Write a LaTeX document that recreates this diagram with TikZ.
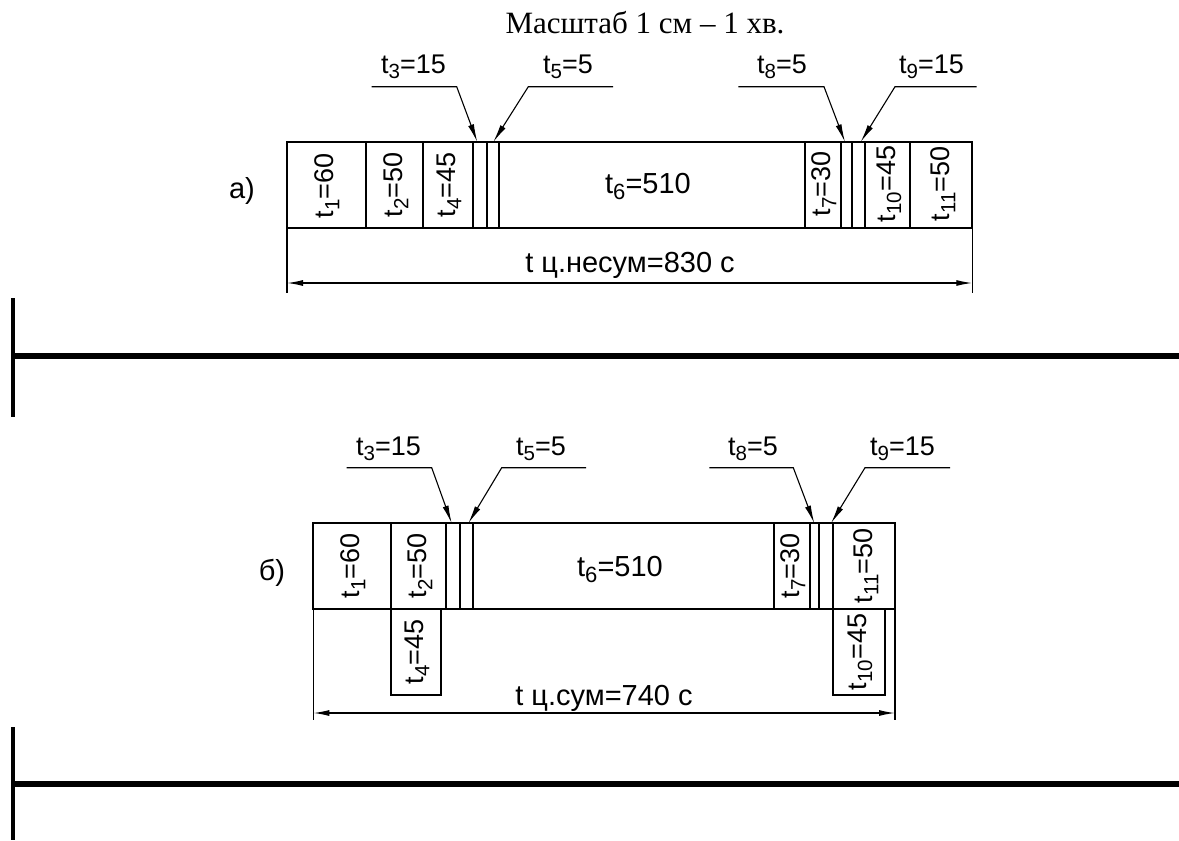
\documentclass[tikz,border=0pt]{standalone}
\usepackage{fontspec}
\setmainfont{Liberation Sans}
\newfontfamily\titlefont{Liberation Serif}
\usetikzlibrary{arrows.meta}
\newcommand\tsb[1]{\raisebox{-0.22em}{\scalebox{0.76}{#1}}}
\begin{document}
\begin{tikzpicture}[x=1pt,y=-1pt,
  lbl/.style={font=\fontsize{27}{30}\selectfont, inner sep=0pt, anchor=base west},
  rlbl/.style={font=\fontsize{27}{30}\selectfont, rotate=90, inner sep=0pt},
  big/.style={font=\fontsize{29}{33}\selectfont, inner sep=0pt},
  frame/.style={line width=2.2pt},
  leader/.style={line width=1.1pt, -{Latex[length=18pt,width=6pt]}},
  dimline/.style={line width=1.3pt, {Latex[length=16pt,width=6pt]}-{Latex[length=16pt,width=6pt]}},
  sepline/.style={line width=6pt},
  sepv/.style={line width=4pt}]
\useasboundingbox (0,0) rectangle (1179,841);

% title
\node[font=\titlefont\fontsize{31}{35}\selectfont, inner sep=0pt, anchor=base] (title) at (645,33) {Масштаб 1 см – 1 хв.};

% ================= a) =================
\node[big, anchor=base] (la) at (242,198) {а)};
\draw[frame] (287,142) rectangle (972.3,228);
\foreach \x in {365.7,422.7,472.7,486.7,499.3,805,841,851.7,865,910}
  \draw[frame] (\x,142) -- (\x,228);
\coordinate (aL1) at (287,228); \coordinate (aL2) at (287,293);
\coordinate (aR1) at (972.3,228); \coordinate (aR2) at (972.3,293);
\draw[line width=1.3pt] (aL1) -- (aL2);
\draw[line width=1.3pt] (aR1) -- (aR2);
\coordinate (aDL) at (287,283); \coordinate (aDR) at (972.3,283);
\draw[dimline] (aDL) -- (aDR);
\node[big, anchor=base] (atot) at (630,272) {t ц.несум=830 с};

\node[rlbl] (a1) at (327,186) {t\tsb{1}=60};
\node[rlbl] (a2) at (396,185) {t\tsb{2}=50};
\node[rlbl] (a4) at (449,185) {t\tsb{4}=45};
\node[big, anchor=base] (a6) at (648,193) {t\tsb{6}=510};
\node[rlbl] (a7) at (824,184) {t\tsb{7}=30};
\node[rlbl] (a10) at (889,184) {t\tsb{10}=45};
\node[rlbl] (a11) at (943,184) {t\tsb{11}=50};

\node[lbl] (a3) at (381,73) {t\tsb{3}=15};
\node[lbl] (a5) at (543,73) {t\tsb{5}=5};
\node[lbl] (a8) at (757,73) {t\tsb{8}=5};
\node[lbl] (a9) at (899,73) {t\tsb{9}=15};
\coordinate (a3s) at (371.7,86.7); \coordinate (a3k) at (456.7,86.7); \coordinate (a3e) at (477.3,142);
\coordinate (a5s) at (613,86.7);   \coordinate (a5k) at (528.3,86.7); \coordinate (a5e) at (493.3,142);
\coordinate (a8s) at (738.3,86.7); \coordinate (a8k) at (824,86.7);   \coordinate (a8e) at (845,142);
\coordinate (a9s) at (976.7,86.7); \coordinate (a9k) at (895,86.7);   \coordinate (a9e) at (860.7,142);
\draw[leader] (a3s) -- (a3k) -- (a3e);
\draw[leader] (a5s) -- (a5k) -- (a5e);
\draw[leader] (a8s) -- (a8k) -- (a8e);
\draw[leader] (a9s) -- (a9k) -- (a9e);

% separator 1
\coordinate (s1t) at (13,298); \coordinate (s1b) at (13,417);
\coordinate (s1l) at (13,356); \coordinate (s1r) at (1179,356);
\draw[sepv] (s1t) -- (s1b);
\draw[sepline] (s1l) -- (s1r);

% ================= b) =================
\node[big, anchor=base] (lb) at (272,580) {б)};
\draw[frame] (313.3,523.3) rectangle (895,609);
\foreach \x in {390.7,446,460,472.7,774.3,810,819.3,833.3}
  \draw[frame] (\x,523.3) -- (\x,609);
\draw[frame] (390.7,609) rectangle (441,695);
\draw[frame] (833.3,609) rectangle (885,695);
\coordinate (bL1) at (313.3,609); \coordinate (bL2) at (313.3,720);
\coordinate (bR1) at (895,609); \coordinate (bR2) at (895,720);
\draw[line width=1.3pt] (bL1) -- (bL2);
\draw[line width=1.3pt] (bR1) -- (bR2);
\coordinate (bDL) at (313.3,713); \coordinate (bDR) at (895,713);
\draw[dimline] (bDL) -- (bDR);
\node[big, anchor=base] (btot) at (604,705) {t ц.сум=740 с};

\node[rlbl] (b1) at (353,566) {t\tsb{1}=60};
\node[rlbl] (b2) at (420,566) {t\tsb{2}=50};
\node[rlbl] (b4) at (417,652) {t\tsb{4}=45};
\node[big, anchor=base] (b6) at (620,576) {t\tsb{6}=510};
\node[rlbl] (b7) at (793,566) {t\tsb{7}=30};
\node[rlbl] (b11) at (866,566) {t\tsb{11}=50};
\node[rlbl] (b10) at (860,652) {t\tsb{10}=45};

\node[lbl] (b3) at (356,455) {t\tsb{3}=15};
\node[lbl] (b5) at (516,455) {t\tsb{5}=5};
\node[lbl] (b8) at (728,455) {t\tsb{8}=5};
\node[lbl] (b9) at (870,455) {t\tsb{9}=15};
\coordinate (b3s) at (346.7,467.7); \coordinate (b3k) at (431.7,467.7); \coordinate (b3e) at (451.7,523.3);
\coordinate (b5s) at (586,467.7);   \coordinate (b5k) at (501.7,467.7); \coordinate (b5e) at (468.3,523.3);
\coordinate (b8s) at (709.3,467.7); \coordinate (b8k) at (793.3,467.7); \coordinate (b8e) at (814.3,523.3);
\coordinate (b9s) at (950,467.7);   \coordinate (b9k) at (865,467.7);   \coordinate (b9e) at (831,523.3);
\draw[leader] (b3s) -- (b3k) -- (b3e);
\draw[leader] (b5s) -- (b5k) -- (b5e);
\draw[leader] (b8s) -- (b8k) -- (b8e);
\draw[leader] (b9s) -- (b9k) -- (b9e);

% separator 2
\coordinate (s2t) at (13,727); \coordinate (s2b) at (13,840);
\coordinate (s2l) at (13,784); \coordinate (s2r) at (1179,784);
\draw[sepv] (s2t) -- (s2b);
\draw[sepline] (s2l) -- (s2r);
\end{tikzpicture}
\end{document}
